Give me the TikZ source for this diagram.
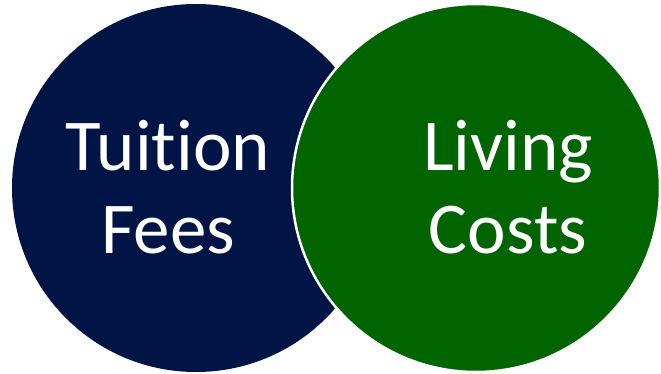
\documentclass[tikz,border=0pt]{standalone}
\usepackage{fontspec}
\setmainfont[Ligatures=NoCommon]{Carlito}
\definecolor{mynavy}{RGB}{0,20,70}
\definecolor{mygreen}{RGB}{0,100,0}
\usetikzlibrary{positioning}

\begin{document}
\begin{tikzpicture}[x=1pt,y=-1pt,
        setnode/.style={circle,inner sep=0pt,minimum size=368pt},
        wordnode/.style={text=white,align=center,inner sep=0pt,
            font=\fontsize{73}{83}\selectfont}
        ]
        \useasboundingbox (0,0) rectangle (661,374);

        % the two sets
        \node[setnode,fill=mynavy] (tuition) at (196,188) {};
        \node[setnode,fill=mygreen,draw=white,line width=2.5pt] (living) at (476,188) {};

        % the words
        \node[wordnode] (tuitiontext) at (168,187) {Tuition\\Fees};
        \node[wordnode] (livingtext) at (508,187) {Living\\Costs};
\end{tikzpicture}
\end{document}
